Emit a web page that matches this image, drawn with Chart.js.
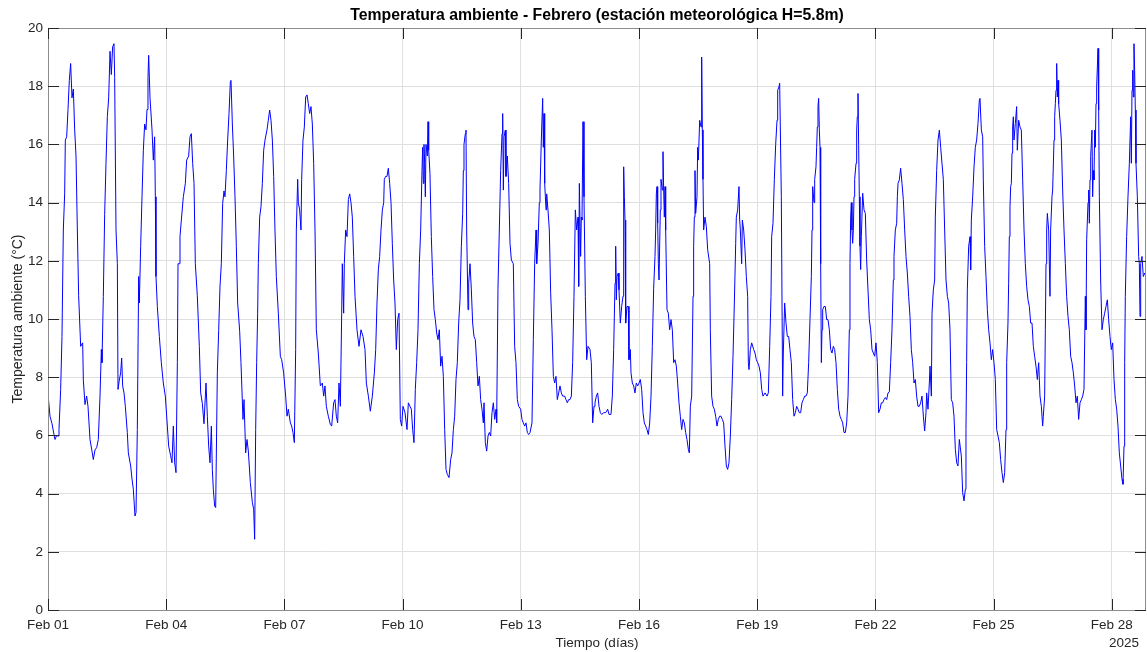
<!DOCTYPE html>
<html>
<head>
<meta charset="utf-8">
<script src="https://cdn.jsdelivr.net/npm/chart.js@4.4.1/dist/chart.umd.min.js"></script>
<style>
  html, body { margin: 0; padding: 0; background: #fff; }
  canvas { display: block; }
</style>
</head>
<body>
<canvas id="tempChart" width="1147" height="652"></canvas>
<script>
// tiempo en días desde Feb 01 00:00, temperatura en °C
const dias = [
  0, 0.051, 0.102, 0.152, 0.178, 0.22, 0.254, 0.279, 0.321, 0.355, 0.389, 0.423, 0.44, 0.474, 0.508, 0.541, 0.575, 0.609, 0.643, 0.677, 0.711, 0.745, 0.778, 0.829, 0.88, 0.897, 0.939, 0.981,
  1.015, 1.066, 1.117, 1.15, 1.193, 1.235, 1.277, 1.32, 1.354, 1.37, 1.404, 1.438, 1.472, 1.506, 1.54, 1.574, 1.607, 1.641, 1.675, 1.692, 1.726, 1.76, 1.777, 1.81, 1.844, 1.87, 1.895, 1.929, 1.963,
  2.013, 2.039, 2.098, 2.132, 2.166, 2.208, 2.234, 2.267, 2.301, 2.318, 2.352, 2.386, 2.42, 2.453, 2.487, 2.513, 2.538, 2.555, 2.589, 2.64, 2.673, 2.707, 2.724, 2.741, 2.775, 2.826, 2.876, 2.927, 2.978,
  3.029, 3.063, 3.113, 3.147, 3.181, 3.215, 3.249, 3.283, 3.3, 3.333, 3.35, 3.384, 3.435, 3.486, 3.519, 3.57, 3.604, 3.638, 3.672, 3.706, 3.739, 3.79, 3.841, 3.875, 3.917, 3.959,
  4.01, 4.044, 4.078, 4.112, 4.146, 4.171, 4.196, 4.23, 4.256, 4.298, 4.332, 4.365, 4.399, 4.433, 4.467, 4.492, 4.526, 4.56, 4.594, 4.628, 4.645, 4.679, 4.712, 4.746, 4.78, 4.814, 4.865, 4.898, 4.949, 4.975,
  5.017, 5.051, 5.085, 5.135, 5.186, 5.22, 5.245, 5.271, 5.296, 5.321, 5.338, 5.372, 5.406, 5.44, 5.474, 5.508, 5.558, 5.592, 5.626, 5.66, 5.694, 5.728, 5.761, 5.795, 5.846, 5.897, 5.931, 5.981,
  6.032, 6.066, 6.1, 6.151, 6.184, 6.218, 6.252, 6.286, 6.303, 6.337, 6.354, 6.387, 6.421, 6.438, 6.472, 6.506, 6.54, 6.574, 6.607, 6.641, 6.675, 6.709, 6.743, 6.777, 6.81, 6.861, 6.912, 6.963, 6.997,
  7.03, 7.064, 7.115, 7.166, 7.2, 7.25, 7.284, 7.318, 7.352, 7.386, 7.42, 7.454, 7.47, 7.504, 7.521, 7.555, 7.589, 7.623, 7.657, 7.69, 7.724, 7.758, 7.792, 7.843, 7.893, 7.944, 7.995,
  8.046, 8.08, 8.131, 8.181, 8.232, 8.283, 8.317, 8.35, 8.384, 8.418, 8.452, 8.486, 8.52, 8.536, 8.57, 8.604, 8.638, 8.672, 8.706, 8.739, 8.773, 8.807, 8.841, 8.875, 8.909, 8.942, 8.976,
  9.01, 9.061, 9.112, 9.146, 9.188, 9.222, 9.256, 9.289, 9.323, 9.357, 9.391, 9.425, 9.459, 9.492, 9.509, 9.526, 9.543, 9.56, 9.577, 9.594, 9.628, 9.645, 9.662, 9.695, 9.729, 9.763, 9.797, 9.831, 9.865, 9.898, 9.932, 9.966,
  10.0, 10.034, 10.068, 10.102, 10.135, 10.178, 10.22, 10.254, 10.288, 10.322, 10.355, 10.389, 10.423, 10.457, 10.491, 10.525, 10.541, 10.558, 10.592, 10.609, 10.626, 10.66, 10.677, 10.711, 10.745, 10.778, 10.812, 10.846, 10.88, 10.914, 10.948, 10.981,
  11.015, 11.049, 11.066, 11.1, 11.134, 11.168, 11.201, 11.235, 11.269, 11.303, 11.337, 11.371, 11.387, 11.421, 11.455, 11.489, 11.523, 11.54, 11.557, 11.574, 11.607, 11.624, 11.658, 11.692, 11.726, 11.76, 11.81, 11.844, 11.878, 11.912, 11.946, 11.997,
  12.03, 12.064, 12.098, 12.132, 12.166, 12.2, 12.234, 12.284, 12.318, 12.352, 12.386, 12.403, 12.437, 12.47, 12.487, 12.521, 12.555, 12.572, 12.589, 12.606, 12.64, 12.657, 12.69, 12.724, 12.758, 12.792, 12.826, 12.86, 12.893, 12.927, 12.961, 12.995,
  13.029, 13.063, 13.113, 13.147, 13.181, 13.215, 13.249, 13.283, 13.316, 13.35, 13.384, 13.418, 13.452, 13.469, 13.486, 13.519, 13.536, 13.553, 13.579, 13.604, 13.638, 13.672, 13.706, 13.756, 13.79, 13.824, 13.858, 13.883, 13.917, 13.951, 13.985,
  14.019, 14.052, 14.103, 14.154, 14.205, 14.239, 14.289, 14.323, 14.357, 14.391, 14.408, 14.425, 14.442, 14.475, 14.492, 14.526, 14.56, 14.594, 14.611, 14.628, 14.645, 14.662, 14.695, 14.729, 14.746, 14.78, 14.797, 14.831, 14.865, 14.898, 14.932, 14.966,
  15.0, 15.034, 15.068, 15.102, 15.135, 15.169, 15.203, 15.237, 15.271, 15.305, 15.338, 15.372, 15.406, 15.423, 15.44, 15.457, 15.474, 15.491, 15.508, 15.541, 15.558, 15.592, 15.609, 15.626, 15.643, 15.66, 15.677, 15.711, 15.745, 15.778, 15.812, 15.846, 15.88, 15.914, 15.948, 15.981,
  16.015, 16.049, 16.083, 16.117, 16.151, 16.184, 16.218, 16.252, 16.277, 16.303, 16.337, 16.371, 16.387, 16.404, 16.421, 16.438, 16.472, 16.489, 16.506, 16.54, 16.574, 16.591, 16.607, 16.624, 16.641, 16.675, 16.709, 16.743, 16.794, 16.81, 16.844, 16.878, 16.912, 16.946, 16.98,
  17.013, 17.047, 17.081, 17.115, 17.149, 17.183, 17.217, 17.25, 17.284, 17.318, 17.352, 17.386, 17.42, 17.454, 17.47, 17.504, 17.538, 17.555, 17.572, 17.606, 17.623, 17.657, 17.69, 17.724, 17.758, 17.775, 17.792, 17.826, 17.86, 17.911, 17.944, 17.978,
  18.012, 18.046, 18.08, 18.114, 18.147, 18.198, 18.249, 18.283, 18.317, 18.35, 18.367, 18.401, 18.435, 18.469, 18.503, 18.52, 18.553, 18.57, 18.612, 18.646, 18.663, 18.697, 18.731, 18.765, 18.799, 18.832, 18.866, 18.9, 18.934, 18.968,
  19.002, 19.036, 19.069, 19.103, 19.137, 19.171, 19.205, 19.239, 19.272, 19.306, 19.34, 19.374, 19.391, 19.408, 19.442, 19.459, 19.492, 19.509, 19.526, 19.543, 19.56, 19.577, 19.594, 19.611, 19.628, 19.645, 19.662, 19.695, 19.729, 19.763, 19.797, 19.831, 19.865, 19.898, 19.932, 19.966,
  20.0, 20.034, 20.068, 20.102, 20.135, 20.169, 20.203, 20.237, 20.271, 20.305, 20.338, 20.355, 20.372, 20.389, 20.406, 20.423, 20.44, 20.457, 20.474, 20.508, 20.525, 20.541, 20.558, 20.575, 20.592, 20.609, 20.626, 20.643, 20.677, 20.711, 20.745, 20.778, 20.812, 20.846, 20.88, 20.914, 20.948, 20.981,
  21.015, 21.049, 21.083, 21.117, 21.151, 21.184, 21.218, 21.252, 21.286, 21.32, 21.354, 21.387, 21.421, 21.455, 21.472, 21.506, 21.54, 21.557, 21.574, 21.607, 21.641, 21.675, 21.709, 21.743, 21.777, 21.81, 21.844, 21.878, 21.912, 21.946, 21.98,
  22.013, 22.047, 22.081, 22.115, 22.149, 22.183, 22.217, 22.25, 22.284, 22.301, 22.335, 22.369, 22.386, 22.42, 22.437, 22.47, 22.504, 22.521, 22.555, 22.589, 22.623, 22.657, 22.69, 22.724, 22.758, 22.792, 22.826, 22.86, 22.893, 22.927, 22.961, 22.995,
  23.029, 23.063, 23.096, 23.13, 23.147, 23.181, 23.215, 23.249, 23.283, 23.299, 23.316, 23.333, 23.367, 23.401, 23.418, 23.435, 23.469, 23.503, 23.536, 23.57, 23.604, 23.638, 23.655, 23.689, 23.723, 23.739, 23.773, 23.807, 23.841, 23.875, 23.909, 23.942, 23.976,
  24.01, 24.044, 24.078, 24.112, 24.146, 24.179, 24.213, 24.247, 24.281, 24.315, 24.332, 24.365, 24.382, 24.399, 24.416, 24.433, 24.45, 24.467, 24.484, 24.501, 24.518, 24.552, 24.585, 24.602, 24.636, 24.67, 24.704, 24.738, 24.772, 24.805, 24.839, 24.873, 24.907, 24.941, 24.975,
  25.008, 25.042, 25.076, 25.11, 25.144, 25.178, 25.212, 25.245, 25.262, 25.296, 25.313, 25.33, 25.347, 25.364, 25.398, 25.431, 25.448, 25.482, 25.499, 25.533, 25.55, 25.567, 25.584, 25.601, 25.618, 25.635, 25.651, 25.685, 25.719, 25.753, 25.787, 25.821, 25.854, 25.888, 25.922, 25.956, 25.99,
  26.024, 26.058, 26.091, 26.125, 26.159, 26.193, 26.227, 26.261, 26.294, 26.328, 26.345, 26.362, 26.396, 26.413, 26.43, 26.447, 26.464, 26.497, 26.514, 26.531, 26.548, 26.565, 26.582, 26.599, 26.616, 26.65, 26.667, 26.684, 26.717, 26.751, 26.785, 26.819, 26.853, 26.887, 26.92, 26.954, 26.988,
  27.022, 27.056, 27.09, 27.124, 27.157, 27.191, 27.225, 27.259, 27.284, 27.31, 27.327, 27.343, 27.377, 27.411, 27.445, 27.479, 27.496, 27.513, 27.53, 27.547, 27.563, 27.58, 27.597, 27.614, 27.648, 27.682, 27.699, 27.716, 27.733, 27.766, 27.8, 27.834, 27.868
];

const temperaturas = [
  7.41, 6.66, 6.4, 6.03, 5.86, 6.0, 5.98, 6.2, 7.58, 9.4, 13.06, 14.3, 16.15, 16.26, 17.2, 18.2, 18.78, 17.6, 17.9, 16.5, 15.6, 13.06, 10.8, 9.06, 9.18, 7.9, 7.06, 7.35,
  7.0, 5.86, 5.46, 5.17, 5.5, 5.58, 5.86, 7.35, 8.95, 8.5, 10.78, 13.6, 15.35, 16.95, 17.6, 19.2, 18.4, 19.35, 19.46, 18.3, 13.06, 11.9, 7.58, 7.9, 8.15, 8.66, 7.7, 7.46, 7.0,
  6.1, 5.4, 4.95, 4.5, 4.15, 3.23, 3.35, 6.2, 11.46, 10.55, 12.5, 14.2, 15.8, 16.7, 16.5, 17.2, 18.3, 19.06, 17.6, 16.5, 15.46, 16.26, 14.2, 11.46, 10.43, 9.4, 8.5, 7.8, 7.35,
  6.32, 5.63, 5.3, 5.06, 6.32, 5.06, 4.72, 8.5, 11.9, 11.9, 12.83, 13.4, 14.2, 14.66, 15.46, 15.6, 16.26, 16.37, 15.35, 14.66, 11.9, 10.8, 9.06, 7.46, 7.1, 6.4,
  7.8, 6.66, 5.63, 5.06, 6.32, 4.83, 4.15, 3.57, 3.52, 8.15, 9.6, 11.1, 11.9, 13.97, 14.4, 14.2, 15.1, 16.15, 17.06, 18.15, 18.2, 16.7, 15.6, 14.2, 12.5, 10.55, 9.58, 8.5, 6.55, 7.23,
  5.4, 5.86, 5.46, 4.38, 3.7, 3.46, 2.43, 6.2, 8.5, 10.2, 11.9, 13.5, 13.86, 14.66, 15.8, 16.15, 16.5, 16.83, 17.18, 16.83, 16.15, 14.9, 13.06, 11.46, 10.2, 8.72, 8.6, 8.15,
  7.35, 6.66, 6.9, 6.43, 6.32, 6.1, 5.75, 8.95, 13.06, 14.8, 14.0, 13.75, 13.06, 14.8, 16.15, 16.6, 17.63, 17.7, 17.4, 17.06, 17.3, 16.7, 15.35, 13.06, 9.63, 8.83, 7.7, 7.8, 7.35,
  7.7, 7.0, 6.66, 6.38, 6.32, 7.12, 7.23, 6.66, 6.43, 7.8, 7.0, 10.2, 11.9, 10.2, 11.9, 13.06, 12.83, 14.1, 14.3, 14.0, 13.5, 12.15, 10.78, 9.63, 9.06, 9.63, 9.4,
  8.95, 7.8, 7.35, 6.83, 7.35, 8.15, 8.95, 10.55, 11.69, 12.15, 13.06, 13.75, 14.0, 14.8, 14.9, 14.9, 15.18, 14.66, 14.0, 12.6, 11.34, 10.55, 8.95, 9.98, 10.2, 6.55, 6.32,
  7.0, 6.78, 6.2, 7.12, 7.0, 6.9, 6.2, 5.75, 7.58, 8.5, 9.63, 11.9, 13.06, 15.1, 15.9, 14.66, 16.0, 15.35, 14.2, 16.0, 15.6, 16.78, 15.8, 15.0, 12.83, 11.46, 10.32, 9.98, 9.52, 9.29, 9.63, 8.38,
  8.72, 8.03, 6.2, 4.83, 4.66, 4.55, 5.17, 5.4, 6.2, 6.66, 7.92, 8.5, 9.86, 10.66, 12.5, 13.63, 15.1, 16.0, 16.37, 16.49, 13.06, 10.32, 11.23, 11.9, 11.0, 9.86, 9.4, 9.29, 8.5, 7.7, 8.03, 7.23,
  6.9, 6.43, 7.12, 5.75, 5.46, 5.98, 6.1, 5.98, 6.78, 7.12, 6.55, 6.9, 6.43, 11.06, 13.06, 15.1, 16.37, 17.06, 14.43, 16.26, 16.49, 14.9, 15.6, 14.66, 12.6, 12.03, 11.9, 9.06, 8.5, 7.23, 7.0, 6.9,
  6.55, 6.43, 6.32, 6.43, 6.1, 6.03, 6.1, 6.43, 9.29, 11.9, 13.06, 11.9, 12.6, 14.0, 14.43, 16.15, 17.58, 15.9, 17.06, 14.66, 13.75, 14.3, 13.75, 13.06, 10.9, 9.63, 8.03, 7.8, 8.03, 7.23, 7.46, 7.7,
  7.46, 7.35, 7.35, 7.23, 7.12, 7.23, 7.23, 7.35, 8.5, 10.78, 13.75, 13.06, 13.5, 11.12, 14.66, 12.15, 13.5, 13.4, 16.78, 14.2, 10.78, 8.6, 9.06, 8.95, 8.5, 6.43, 7.0, 7.12, 7.35, 7.46, 7.0,
  6.78, 6.72, 6.78, 6.78, 6.9, 6.72, 6.72, 7.35, 8.95, 11.23, 12.5, 10.66, 11.46, 11.58, 11.0, 9.86, 10.43, 10.78, 15.23, 14.2, 13.4, 9.86, 10.43, 10.43, 8.6, 8.95, 8.15, 7.8, 7.7, 7.46, 7.8, 7.7,
  7.8, 7.92, 7.58, 6.78, 6.43, 6.32, 6.2, 6.03, 6.43, 7.35, 9.06, 11.06, 12.15, 13.06, 14.3, 14.55, 13.29, 11.9, 11.34, 13.75, 14.8, 14.43, 15.75, 14.43, 13.5, 14.55, 13.06, 10.32, 10.2, 9.63, 9.98, 9.63, 8.5, 8.6, 8.38, 7.8,
  7.12, 6.66, 6.2, 6.55, 6.43, 6.1, 5.86, 5.52, 5.4, 7.0, 7.35, 10.78, 12.5, 13.5, 15.1, 13.63, 14.2, 15.9, 15.46, 16.83, 16.6, 19.0, 16.5, 14.8, 13.06, 13.5, 13.18, 12.38, 11.9, 9.63, 7.35, 7.0, 6.9, 6.66, 6.32,
  6.55, 6.66, 6.66, 6.55, 6.43, 5.63, 4.95, 4.83, 5.06, 5.98, 7.23, 8.72, 10.55, 12.6, 13.5, 13.75, 14.55, 13.4, 13.06, 11.9, 13.4, 13.06, 12.38, 11.46, 10.78, 8.5, 8.26, 8.95, 9.18, 8.95, 8.83, 8.6,
  8.5, 8.38, 8.15, 7.58, 7.35, 7.46, 7.35, 7.46, 9.06, 10.78, 12.83, 13.29, 14.8, 16.0, 16.83, 17.86, 17.98, 18.1, 14.2, 7.35, 8.83, 10.55, 9.86, 9.4, 9.4, 8.95, 8.5, 7.23, 6.66, 6.78,
  7.0, 6.9, 6.78, 6.78, 7.12, 7.23, 7.35, 7.35, 7.46, 8.5, 9.98, 11.46, 13.06, 14.55, 14.0, 14.8, 15.23, 15.9, 16.6, 17.3, 17.58, 16.5, 15.9, 11.9, 8.5, 9.63, 10.32, 10.43, 10.43, 9.98, 9.98, 9.63, 8.95, 8.83, 9.06, 8.95,
  8.5, 7.58, 6.9, 6.66, 6.55, 6.43, 6.1, 6.1, 6.43, 7.35, 9.63, 11.9, 13.5, 14.0, 13.06, 12.6, 13.06, 14.2, 14.8, 15.35, 16.5, 16.95, 17.75, 16.0, 14.2, 12.5, 11.7, 12.83, 14.32, 13.75, 13.63, 12.03, 11.0, 9.98, 9.63, 8.95, 8.83, 8.72,
  9.18, 8.5, 6.78, 6.9, 7.12, 7.12, 7.23, 7.3, 7.23, 7.46, 7.5, 8.5, 9.63, 11.34, 12.15, 13.06, 13.29, 14.2, 14.66, 14.78, 15.18, 14.66, 14.1, 13.06, 12.15, 11.58, 10.78, 10.09, 8.95, 8.5, 7.8,
  7.92, 7.35, 7.0, 7.0, 7.12, 7.35, 6.66, 6.15, 6.78, 7.46, 6.9, 7.8, 8.38, 7.35, 10.2, 11.0, 11.34, 13.5, 15.1, 16.15, 16.49, 15.9, 15.35, 14.8, 13.06, 11.34, 10.78, 10.55, 9.63, 7.23, 7.12, 6.66,
  5.52, 5.06, 4.95, 5.86, 5.86, 5.29, 4.03, 3.75, 4.15, 6.2, 8.5, 11.0, 12.5, 12.83, 11.69, 13.4, 14.2, 15.23, 15.9, 16.15, 16.72, 17.52, 17.58, 16.5, 16.26, 14.78, 12.5, 11.46, 10.32, 9.63, 9.18, 8.6, 8.95,
  8.5, 7.92, 6.2, 5.98, 5.75, 5.17, 4.72, 4.38, 4.72, 6.2, 8.5, 9.86, 11.23, 12.83, 13.86, 14.55, 14.66, 15.7, 16.6, 16.95, 16.15, 16.72, 17.3, 15.8, 16.83, 16.6, 16.49, 14.78, 13.06, 11.9, 11.12, 10.66, 10.43, 9.86, 9.86,
  9.06, 8.72, 8.38, 7.92, 8.5, 7.35, 7.0, 6.32, 6.66, 7.35, 9.63, 11.9, 13.06, 13.63, 13.06, 10.78, 13.06, 14.2, 14.43, 16.15, 16.95, 17.4, 17.86, 18.78, 17.63, 18.2, 17.4, 16.83, 16.15, 14.43, 13.06, 11.9, 10.78, 10.09, 9.63, 8.72, 8.5,
  8.15, 7.7, 7.12, 7.35, 6.55, 7.12, 7.23, 7.35, 7.58, 10.78, 9.63, 12.72, 14.0, 14.43, 13.29, 14.78, 15.58, 16.49, 14.2, 15.1, 14.78, 16.49, 15.9, 17.4, 17.98, 19.3, 17.18, 14.2, 11.34, 9.63, 9.98, 10.2, 10.43, 10.66, 9.98, 9.4, 8.95,
  9.18, 7.92, 7.23, 6.9, 6.32, 5.4, 4.95, 4.49, 4.32, 5.63, 8.5, 10.78, 12.83, 14.2, 15.35, 16.95, 15.35, 17.86, 18.55, 17.63, 19.46, 18.55, 17.18, 15.35, 14.2, 12.15, 11.9, 10.09, 11.9, 12.15, 11.46, 11.58, 11.46
];

const xTicksDias = [0, 3, 6, 9, 12, 15, 18, 21, 24, 27];
const xTicksEtiquetas = ['Feb 01', 'Feb 04', 'Feb 07', 'Feb 10', 'Feb 13', 'Feb 16', 'Feb 19', 'Feb 22', 'Feb 25', 'Feb 28'];
const yMin = 0;
const yMax = 20;
const yPaso = 2;

const fuente = '"Liberation Sans", Arial, Helvetica, sans-serif';
const colorTexto = '#262626';

// caja estilo MATLAB: borde en los 4 lados y marcas hacia dentro
const cajaEjes = {
    id: 'cajaEjes',
    afterDatasetsDraw(chart) {
        const {ctx, chartArea, scales} = chart;
        const {left, right, top, bottom} = chartArea;
        const largo = 11;
        ctx.save();
        ctx.lineWidth = 1;
        ctx.strokeStyle = '#8c8c8c';
        ctx.strokeRect(Math.round(left) + 0.5, Math.round(top) + 0.5,
            Math.round(right) - Math.round(left) - 1, Math.round(bottom) - Math.round(top));
        ctx.strokeStyle = colorTexto;
        ctx.beginPath();
        scales.x.ticks.forEach(t => {
            const x = Math.round(scales.x.getPixelForValue(t.value)) + 0.5;
            ctx.moveTo(x, bottom);
            ctx.lineTo(x, bottom - largo);
            ctx.moveTo(x, top);
            ctx.lineTo(x, top + largo);
        });
        scales.y.ticks.forEach(t => {
            const y = Math.round(scales.y.getPixelForValue(t.value)) + 0.5;
            ctx.moveTo(left, y);
            ctx.lineTo(left + largo, y);
            ctx.moveTo(right, y);
            ctx.lineTo(right - largo, y);
        });
        ctx.stroke();
        ctx.restore();
    },
    afterDraw(chart) {
        const {ctx} = chart;
        ctx.save();
        ctx.fillStyle = colorTexto;
        ctx.font = '13.5px ' + fuente;
        ctx.textAlign = 'right';
        ctx.textBaseline = 'middle';
        ctx.fillText('2025', 1139, 643);
        ctx.restore();
    }
};

const puntos = dias.map((d, i) => ({x: d, y: temperaturas[i]}));
const xMax = dias[dias.length - 1];

const ctx = document.getElementById('tempChart').getContext('2d');
const chart = new Chart(ctx, {
    type: 'line',
    data: {
        datasets: [{
            label: 'Temperatura ambiente',
            data: puntos,
            borderColor: '#0000ff',
            borderWidth: 1,
            pointRadius: 0,
            tension: 0,
            fill: false
        }]
    },
    options: {
        responsive: false,
        animation: false,
        layout: { padding: { top: 0, right: 1, bottom: 0, left: 0 } },
        plugins: {
            legend: { display: false },
            tooltip: { enabled: false }
        },
        scales: {
            x: {
                type: 'linear',
                min: 0,
                max: xMax,
                afterBuildTicks(scale) {
                    scale.ticks = xTicksDias.map(v => ({value: v}));
                },
                afterFit(scale) { scale.height = 42; },
                grid: { color: '#dfdfdf', drawTicks: false },
                border: { display: false },
                ticks: {
                    color: colorTexto,
                    font: { family: fuente, size: 13.5 },
                    padding: 7,
                    maxRotation: 0,
                    autoSkip: false,
                    callback: (value, index) => xTicksEtiquetas[index]
                },
                title: {
                    display: true,
                    text: 'Tiempo (días)',
                    color: colorTexto,
                    font: { family: fuente, size: 13.5 },
                    padding: { top: 0, bottom: 0.9 }
                }
            },
            // eje superior sólo para centrar el título sobre el área del gráfico
            xTitulo: {
                type: 'linear',
                position: 'top',
                min: 0,
                max: xMax,
                afterFit(scale) { scale.height = 28; },
                grid: { display: false },
                border: { display: false },
                ticks: { display: false },
                title: {
                    display: true,
                    text: 'Temperatura ambiente - Febrero (estación meteorológica H=5.8m)',
                    color: '#000',
                    font: { family: fuente, size: 15.8, weight: 'bold' },
                    padding: { top: 6.5, bottom: 0 }
                }
            },
            y: {
                min: yMin,
                max: yMax,
                afterFit(scale) { scale.width = 48; },
                grid: { color: '#dfdfdf', drawTicks: false },
                border: { display: false },
                ticks: {
                    stepSize: yPaso,
                    color: colorTexto,
                    font: { family: fuente, size: 13.5 },
                    padding: 5
                },
                title: {
                    display: true,
                    text: 'Temperatura ambiente (°C)',
                    color: colorTexto,
                    font: { family: fuente, size: 14 },
                    padding: { top: 9.6, bottom: 0 }
                }
            }
        }
    },
    plugins: [cajaEjes]
});
</script>
</body>
</html>
